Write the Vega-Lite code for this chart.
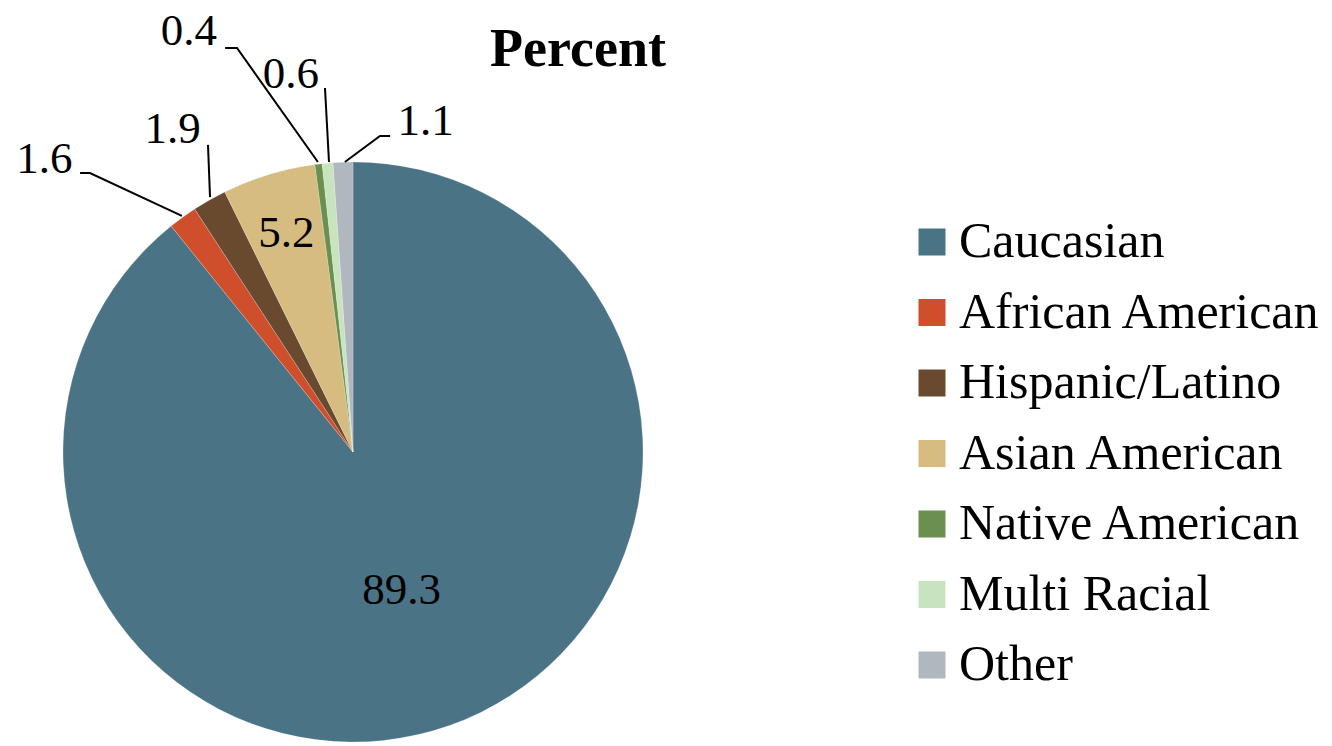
{
  "$schema": "https://vega.github.io/schema/vega-lite/v6.json",
  "width": 706,
  "height": 580,
  "autosize": {"type": "none"},
  "padding": {"left": 0, "top": 162, "right": 626, "bottom": 4},
  "background": "white",
  "config": {
    "view": {"stroke": null},
    "font": "Liberation Serif"
  },
  "title": {
    "text": "Percent",
    "font": "Liberation Serif",
    "fontSize": 54,
    "fontWeight": "bold",
    "color": "black",
    "anchor": "middle",
    "frame": "group",
    "baseline": "alphabetic",
    "dx": 225,
    "offset": -111
  },
  "datasets": {
    "groups": [
      {"group": "Caucasian", "percent": 89.3},
      {"group": "African American", "percent": 1.6},
      {"group": "Hispanic/Latino", "percent": 1.9},
      {"group": "Asian American", "percent": 5.2},
      {"group": "Native American", "percent": 0.4},
      {"group": "Multi Racial", "percent": 0.6},
      {"group": "Other", "percent": 1.1}
    ],
    "callouts": [
      {"group": "African American", "lx": -106.4, "ly": 96.2},
      {"group": "Hispanic/Latino", "lx": -62.2, "ly": 106.6},
      {"group": "Native American", "lx": -56.6, "ly": 140.3},
      {"group": "Multi Racial", "lx": -21.4, "ly": 125.5},
      {"group": "Other", "lx": 25.0, "ly": 109.3}
    ],
    "leaders": [
      {"group": "African American", "step": 1, "lx": -94.1, "ly": 96.2},
      {"group": "African American", "step": 2, "lx": -90.7, "ly": 96.2},
      {"group": "African American", "step": 3, "lx": -59.0, "ly": 81.4},
      {"group": "Hispanic/Latino", "step": 1, "lx": -50.0, "ly": 105.9},
      {"group": "Hispanic/Latino", "step": 2, "lx": -49.3, "ly": 87.9},
      {"group": "Native American", "step": 1, "lx": -44.1, "ly": 139.3},
      {"group": "Native American", "step": 2, "lx": -40.0, "ly": 139.3},
      {"group": "Native American", "step": 3, "lx": -12.1, "ly": 100.0},
      {"group": "Multi Racial", "step": 1, "lx": -9.66, "ly": 125.5},
      {"group": "Multi Racial", "step": 2, "lx": -8.28, "ly": 100.0},
      {"group": "Other", "step": 1, "lx": 12.8, "ly": 109.0},
      {"group": "Other", "step": 2, "lx": 9.3, "ly": 109.0},
      {"group": "Other", "step": 3, "lx": -2.8, "ly": 100.0}
    ]
  },
  "layer": [
    {
      "data": {"name": "groups"},
      "transform": [{"window": [{"op": "row_number", "as": "slot"}]}],
      "mark": {"type": "arc", "stroke": "#ffffff", "strokeWidth": 0.4, "strokeOpacity": 0.5},
      "encoding": {
        "theta": {"field": "percent", "type": "quantitative", "stack": true},
        "order": {"field": "slot", "type": "quantitative"},
        "color": {
          "field": "group",
          "type": "nominal",
          "sort": null,
          "scale": {
            "domain": ["Caucasian", "African American", "Hispanic/Latino", "Asian American", "Native American", "Multi Racial", "Other"],
            "range": ["#4a7386", "#cf4f2c", "#6a4a2f", "#d6bc80", "#6a8f4f", "#c7e4bf", "#b0b7be"]
          },
          "legend": {
            "title": null,
            "orient": "none",
            "legendX": 907,
            "legendY": 55,
            "padding": 0,
            "symbolType": "square",
            "symbolSize": 729,
            "symbolStrokeWidth": 0,
            "labelFont": "Liberation Serif",
            "labelFontSize": 50,
            "labelColor": "black",
            "labelLimit": 420,
            "labelOffset": 2,
            "rowPadding": 20.5
          }
        }
      }
    },
    {
      "data": {"name": "groups"},
      "transform": [{"window": [{"op": "row_number", "as": "slot"}]}],
      "mark": {"type": "text", "radius": 146, "fontSize": 45, "baseline": "middle", "color": "black"},
      "encoding": {
        "theta": {"field": "percent", "type": "quantitative", "stack": true},
        "order": {"field": "slot", "type": "quantitative"},
        "text": {
          "condition": {"test": "datum.group === 'Caucasian'", "field": "percent", "type": "quantitative", "format": ".1f"},
          "value": ""
        }
      }
    },
    {
      "data": {"name": "groups"},
      "transform": [{"window": [{"op": "row_number", "as": "slot"}]}],
      "mark": {"type": "text", "radius": 229, "fontSize": 45, "baseline": "middle", "color": "black"},
      "encoding": {
        "theta": {"field": "percent", "type": "quantitative", "stack": true},
        "order": {"field": "slot", "type": "quantitative"},
        "text": {
          "condition": {"test": "datum.group === 'Asian American'", "field": "percent", "type": "quantitative", "format": ".1f"},
          "value": ""
        }
      }
    },
    {
      "data": {"name": "leaders"},
      "mark": {"type": "line", "color": "black", "strokeWidth": 2, "clip": false},
      "encoding": {
        "x": {"field": "lx", "type": "quantitative", "axis": null, "scale": {"domain": [-121.72, 121.72], "nice": false, "zero": false}},
        "y": {"field": "ly", "type": "quantitative", "axis": null, "scale": {"domain": [-100, 100], "nice": false, "zero": false}},
        "detail": {"field": "group"},
        "order": {"field": "step", "type": "quantitative"}
      }
    },
    {
      "data": {"name": "callouts"},
      "transform": [
        {"lookup": "group", "from": {"data": {"name": "groups"}, "key": "group", "fields": ["percent"]}}
      ],
      "mark": {"type": "text", "fontSize": 45, "baseline": "alphabetic", "align": "center", "color": "black", "clip": false},
      "encoding": {
        "x": {"field": "lx", "type": "quantitative", "axis": null},
        "y": {"field": "ly", "type": "quantitative", "axis": null},
        "text": {"field": "percent", "type": "quantitative", "format": ".1f"}
      }
    }
  ]
}
